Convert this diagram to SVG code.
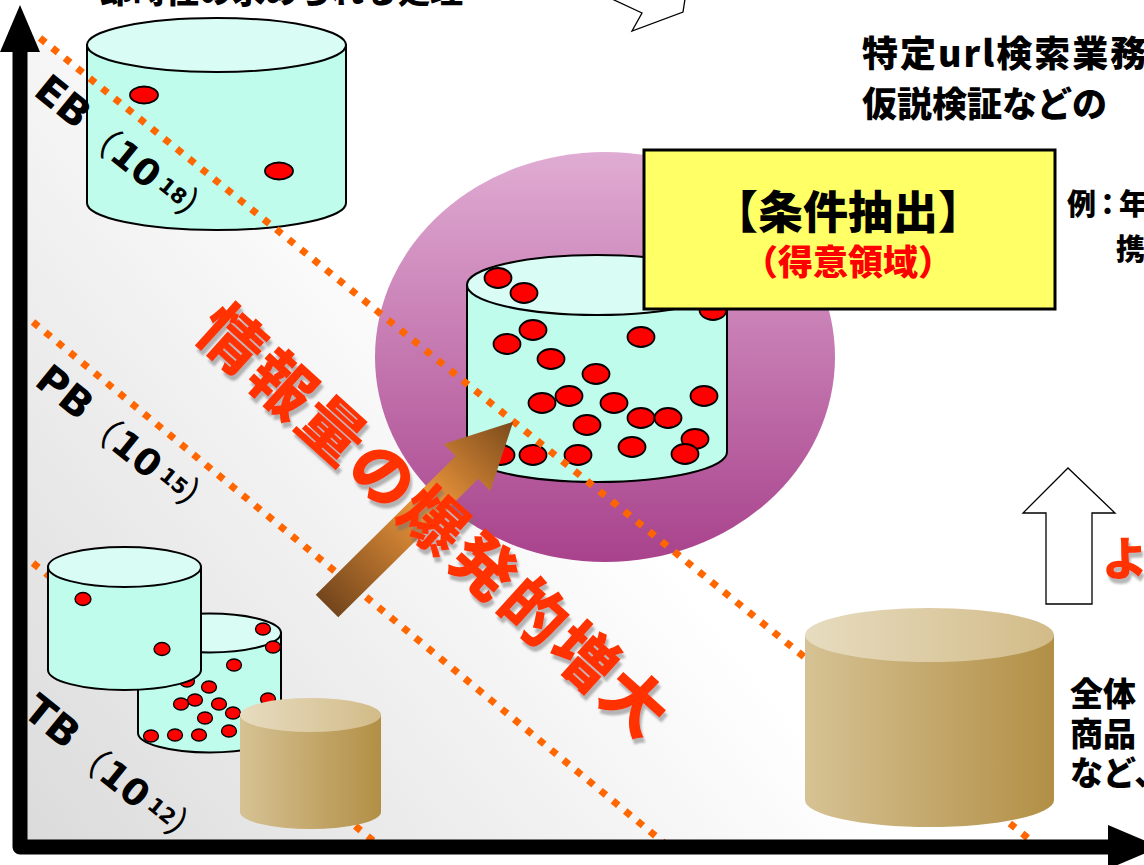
<svg xmlns="http://www.w3.org/2000/svg" width="1144" height="865" viewBox="0 0 1144 865">
  <defs>
    <linearGradient id="bgGrad" gradientUnits="userSpaceOnUse" x1="30" y1="845" x2="560" y2="420">
      <stop offset="0" stop-color="#dbdbdb"/>
      <stop offset="1" stop-color="#ffffff"/>
    </linearGradient>
    <linearGradient id="halo" x1="0" y1="0" x2="0" y2="1">
      <stop offset="0" stop-color="#e0acd3"/>
      <stop offset="1" stop-color="#a8428c"/>
    </linearGradient>
    <linearGradient id="tanBody" x1="0" y1="0" x2="1" y2="0">
      <stop offset="0" stop-color="#d6c294"/>
      <stop offset="1" stop-color="#b28f45"/>
    </linearGradient>
    <linearGradient id="tanTop" x1="0" y1="0" x2="1" y2="0">
      <stop offset="0" stop-color="#e7dcc0"/>
      <stop offset="1" stop-color="#d2bb88"/>
    </linearGradient>
    <linearGradient id="growGrad" gradientUnits="userSpaceOnUse" x1="0" y1="0" x2="262" y2="0">
      <stop offset="0" stop-color="#74461c"/>
      <stop offset="0.55" stop-color="#f0983c"/>
      <stop offset="1" stop-color="#7a4a1c"/>
    </linearGradient>
    <filter id="shadow" x="-10%" y="-10%" width="125%" height="130%">
      <feDropShadow dx="2" dy="5" stdDeviation="1.2" flood-color="#707070" flood-opacity="0.5"/>
    </filter>
  </defs>
  <style>
    .cyl{fill:#bffcec;stroke:#000;stroke-width:2}
    .lid{fill:#d9fcf4;stroke:#000;stroke-width:2}
    .dot{fill:#ff0000;stroke:#000;stroke-width:1.8}
    .sdot{fill:#ff0000;stroke:#000;stroke-width:1.3}
    .dash{stroke:#ff6600;stroke-width:7;stroke-dasharray:7 9;fill:none}
    .tan{fill:url(#tanBody)}
    .tanlid{fill:url(#tanTop)}
    .heavy{font-family:"Noto Sans CJK JP","Noto Sans",sans-serif;font-weight:900}
    .scale{font-family:"DejaVu Sans","Liberation Sans",sans-serif;font-weight:700;font-size:40px;fill:#000}
    .paren{font-family:"Noto Sans CJK JP",sans-serif;font-weight:400;font-size:36px}
    .num{font-size:37px}
    .exp{font-size:21px}
    .big{fill:#ff3300;font-size:64px;letter-spacing:3.8px}
  </style>

  <!-- shaded region under the scale lines -->
  <polygon points="27,30 27,848 1048,848" fill="url(#bgGrad)"/>

  <!-- focus halo -->
  <ellipse cx="605" cy="357" rx="230" ry="205" fill="url(#halo)"/>

  <!-- scale lines (PB, TB) -->
  <g id="scale-lines-low">
    <line class="dash" x1="33" y1="322" x2="664" y2="843"/>
    <line class="dash" x1="33" y1="563" x2="376" y2="843"/>
  </g>

  <!-- TB storage -->
  <g id="tb-storage">
    <path class="cyl" d="M138,633 V733 A71.5,19.5 0 0 0 281,733 V633 Z"/>
    <ellipse class="lid" cx="209.5" cy="633" rx="71.5" ry="19.5"/>
    <g>
      <ellipse class="sdot" cx="263" cy="629" rx="7.5" ry="6"/>
      <ellipse class="sdot" cx="273" cy="647" rx="7.5" ry="6"/>
      <ellipse class="sdot" cx="234" cy="665" rx="7.5" ry="6"/>
      <ellipse class="sdot" cx="187" cy="681" rx="7.5" ry="6"/>
      <ellipse class="sdot" cx="209" cy="687" rx="7.5" ry="6"/>
      <ellipse class="sdot" cx="195" cy="700" rx="7.5" ry="6"/>
      <ellipse class="sdot" cx="181" cy="704" rx="7.5" ry="6"/>
      <ellipse class="sdot" cx="219" cy="704" rx="7.5" ry="6"/>
      <ellipse class="sdot" cx="233" cy="713" rx="7.5" ry="6"/>
      <ellipse class="sdot" cx="205" cy="718" rx="7.5" ry="6"/>
      <ellipse class="sdot" cx="268" cy="699" rx="7.5" ry="6"/>
      <ellipse class="sdot" cx="151" cy="736" rx="7.5" ry="6"/>
      <ellipse class="sdot" cx="175" cy="735" rx="7.5" ry="6"/>
      <ellipse class="sdot" cx="199" cy="735" rx="7.5" ry="6"/>
      <ellipse class="sdot" cx="229" cy="731" rx="7.5" ry="6"/>
    </g>
  </g>
  <g id="tb-front">
    <path class="cyl" d="M48,567 V670 A76.5,20 0 0 0 201,670 V567 Z"/>
    <ellipse class="lid" cx="124.5" cy="567" rx="76.5" ry="20"/>
    <ellipse class="sdot" cx="83" cy="599" rx="8" ry="6.5"/>
    <ellipse class="sdot" cx="162" cy="649" rx="8" ry="6.5"/>
  </g>

  <!-- central storage -->
  <g id="focus-storage">
    <path class="cyl" d="M467,285 V452 A130,30 0 0 0 727,452 V285 Z"/>
    <ellipse class="lid" cx="597" cy="285" rx="130" ry="30"/>
    <g>
      <ellipse class="dot" cx="498" cy="278" rx="13.5" ry="10"/>
      <ellipse class="dot" cx="524" cy="293" rx="13.5" ry="10"/>
      <ellipse class="dot" cx="713" cy="310" rx="13.5" ry="10"/>
      <ellipse class="dot" cx="533" cy="330" rx="13.5" ry="10"/>
      <ellipse class="dot" cx="507" cy="344" rx="13.5" ry="10"/>
      <ellipse class="dot" cx="551" cy="359" rx="13.5" ry="10"/>
      <ellipse class="dot" cx="641" cy="337" rx="13.5" ry="10"/>
      <ellipse class="dot" cx="596" cy="374" rx="13.5" ry="10"/>
      <ellipse class="dot" cx="569" cy="396" rx="13.5" ry="10"/>
      <ellipse class="dot" cx="542" cy="403" rx="13.5" ry="10"/>
      <ellipse class="dot" cx="614" cy="403" rx="13.5" ry="10"/>
      <ellipse class="dot" cx="704" cy="396" rx="13.5" ry="10"/>
      <ellipse class="dot" cx="641" cy="418" rx="13.5" ry="10"/>
      <ellipse class="dot" cx="668" cy="418" rx="13.5" ry="10"/>
      <ellipse class="dot" cx="587" cy="425" rx="13.5" ry="10"/>
      <ellipse class="dot" cx="695" cy="439" rx="13.5" ry="10"/>
      <ellipse class="dot" cx="632" cy="447" rx="13.5" ry="10"/>
      <ellipse class="dot" cx="685" cy="454" rx="13.5" ry="10"/>
      <ellipse class="dot" cx="578" cy="455" rx="13.5" ry="10"/>
      <ellipse class="dot" cx="533" cy="455" rx="13.5" ry="10"/>
      <ellipse class="dot" cx="501" cy="455" rx="13.5" ry="10"/>
    </g>
  </g>

  <!-- EB storage -->
  <g id="eb-storage">
    <path class="cyl" d="M87,45 V203 A129.5,27 0 0 0 346,203 V45 Z"/>
    <ellipse class="lid" cx="216.5" cy="45" rx="129.5" ry="27"/>
    <ellipse class="dot" cx="144" cy="95" rx="14" ry="8.5"/>
    <ellipse class="dot" cx="279" cy="171" rx="14" ry="8.5"/>
  </g>

  <!-- EB scale line -->
  <g id="scale-line-eb">
    <line class="dash" x1="40" y1="38" x2="1034" y2="843"/>
  </g>

  <!-- growth arrow and hollow arrows -->
  <g id="connectors">
    <polygon transform="translate(327,606) rotate(-44.7)" fill="url(#growGrad)"
      points="0,-16 197,-16 197,-33 262,0 197,33 197,16 0,16"/>
    <polygon points="1046,604 1046,513 1023,513 1068,468 1115,513 1092,513 1092,604" fill="#fff" stroke="#000" stroke-width="1.3"/>
    <polygon points="612,-1 642,13 632,31 683,12 685,-1" fill="#fff" stroke="#000" stroke-width="1.3"/>
  </g>

  <!-- plain data stores -->
  <g id="tan-small">
    <path class="tan" d="M240,715 V812 A70.5,17 0 0 0 381,812 V715 Z"/>
    <ellipse class="tanlid" cx="310.5" cy="715" rx="70.5" ry="17"/>
  </g>
  <g id="tan-large">
    <path class="tan" d="M805,635 V800 A124.5,27 0 0 0 1054,800 V635 Z"/>
    <ellipse class="tanlid" cx="929.5" cy="635" rx="124.5" ry="27"/>
  </g>

  <!-- axes -->
  <g id="axes">
    <path d="M20,50 V847 H1112" fill="none" stroke="#000" stroke-width="15" stroke-linejoin="round"/>
    <polygon points="20,5 40,52 0,52" fill="#000"/>
    <polygon points="1160,847 1108,825 1108,869" fill="#000"/>
  </g>

  <!-- scale labels -->
  <g id="label-eb">
    <text class="scale" transform="translate(32,94) rotate(39)">EB<tspan class="paren" x="62" y="3">（</tspan><tspan class="num" x="99" y="2">10</tspan><tspan class="exp" x="156" y="-6">18</tspan><tspan class="paren" x="183" y="0">）</tspan></text>
  </g>
  <g id="label-pb">
    <text class="scale" transform="translate(33,384) rotate(39)">PB<tspan class="paren" x="62" y="3">（</tspan><tspan class="num" x="99" y="2">10</tspan><tspan class="exp" x="156" y="-6">15</tspan><tspan class="paren" x="183" y="0">）</tspan></text>
  </g>
  <g id="label-tb">
    <text class="scale" transform="translate(21,714) rotate(39)">TB<tspan class="paren" x="62" y="3">（</tspan><tspan class="num" x="99" y="2">10</tspan><tspan class="exp" x="156" y="-6">12</tspan><tspan class="paren" x="183" y="0">）</tspan></text>
  </g>

  <!-- condition extraction box -->
  <g id="extract-box">
    <rect x="644" y="150" width="411" height="159" fill="#ffff66" stroke="#000" stroke-width="3"/>
    <text class="heavy" x="848" y="229" font-size="45" text-anchor="middle" fill="#000">【条件抽出】</text>
    <text class="heavy" x="848" y="275" font-size="35" text-anchor="middle" fill="#ff0000">（得意領域）</text>
  </g>

  <!-- side notes -->
  <g id="notes">
    <text class="heavy" x="100" y="3" font-size="33" fill="#000">即時性の求められる処理</text>
    <text class="heavy" x="862" y="67" font-size="36" letter-spacing="2" fill="#000">特定url検索業務</text>
    <text class="heavy" x="862" y="117" font-size="35" fill="#000">仮説検証などの</text>
    <text class="heavy" x="1067" y="215" font-size="29" fill="#000" letter-spacing="-3">例：年</text>
    <text class="heavy" x="1116" y="260" font-size="29" fill="#000">携</text>
    <text class="heavy" x="1070" y="706" font-size="33" fill="#000">全体</text>
    <text class="heavy" x="1070" y="746" font-size="33" fill="#000">商品</text>
    <text class="heavy" x="1070" y="785" font-size="33" fill="#000">など、</text>
    <g filter="url(#shadow)">
      <text class="heavy" x="1102" y="575" font-size="46" fill="#ff3300">よ</text>
    </g>
  </g>

  <!-- headline along the growth direction -->
  <g id="headline" filter="url(#shadow)">
    <text class="heavy big" transform="translate(433.5,520) rotate(42)" x="-303" y="24">情報量の爆発的増大</text>
  </g>
</svg>
